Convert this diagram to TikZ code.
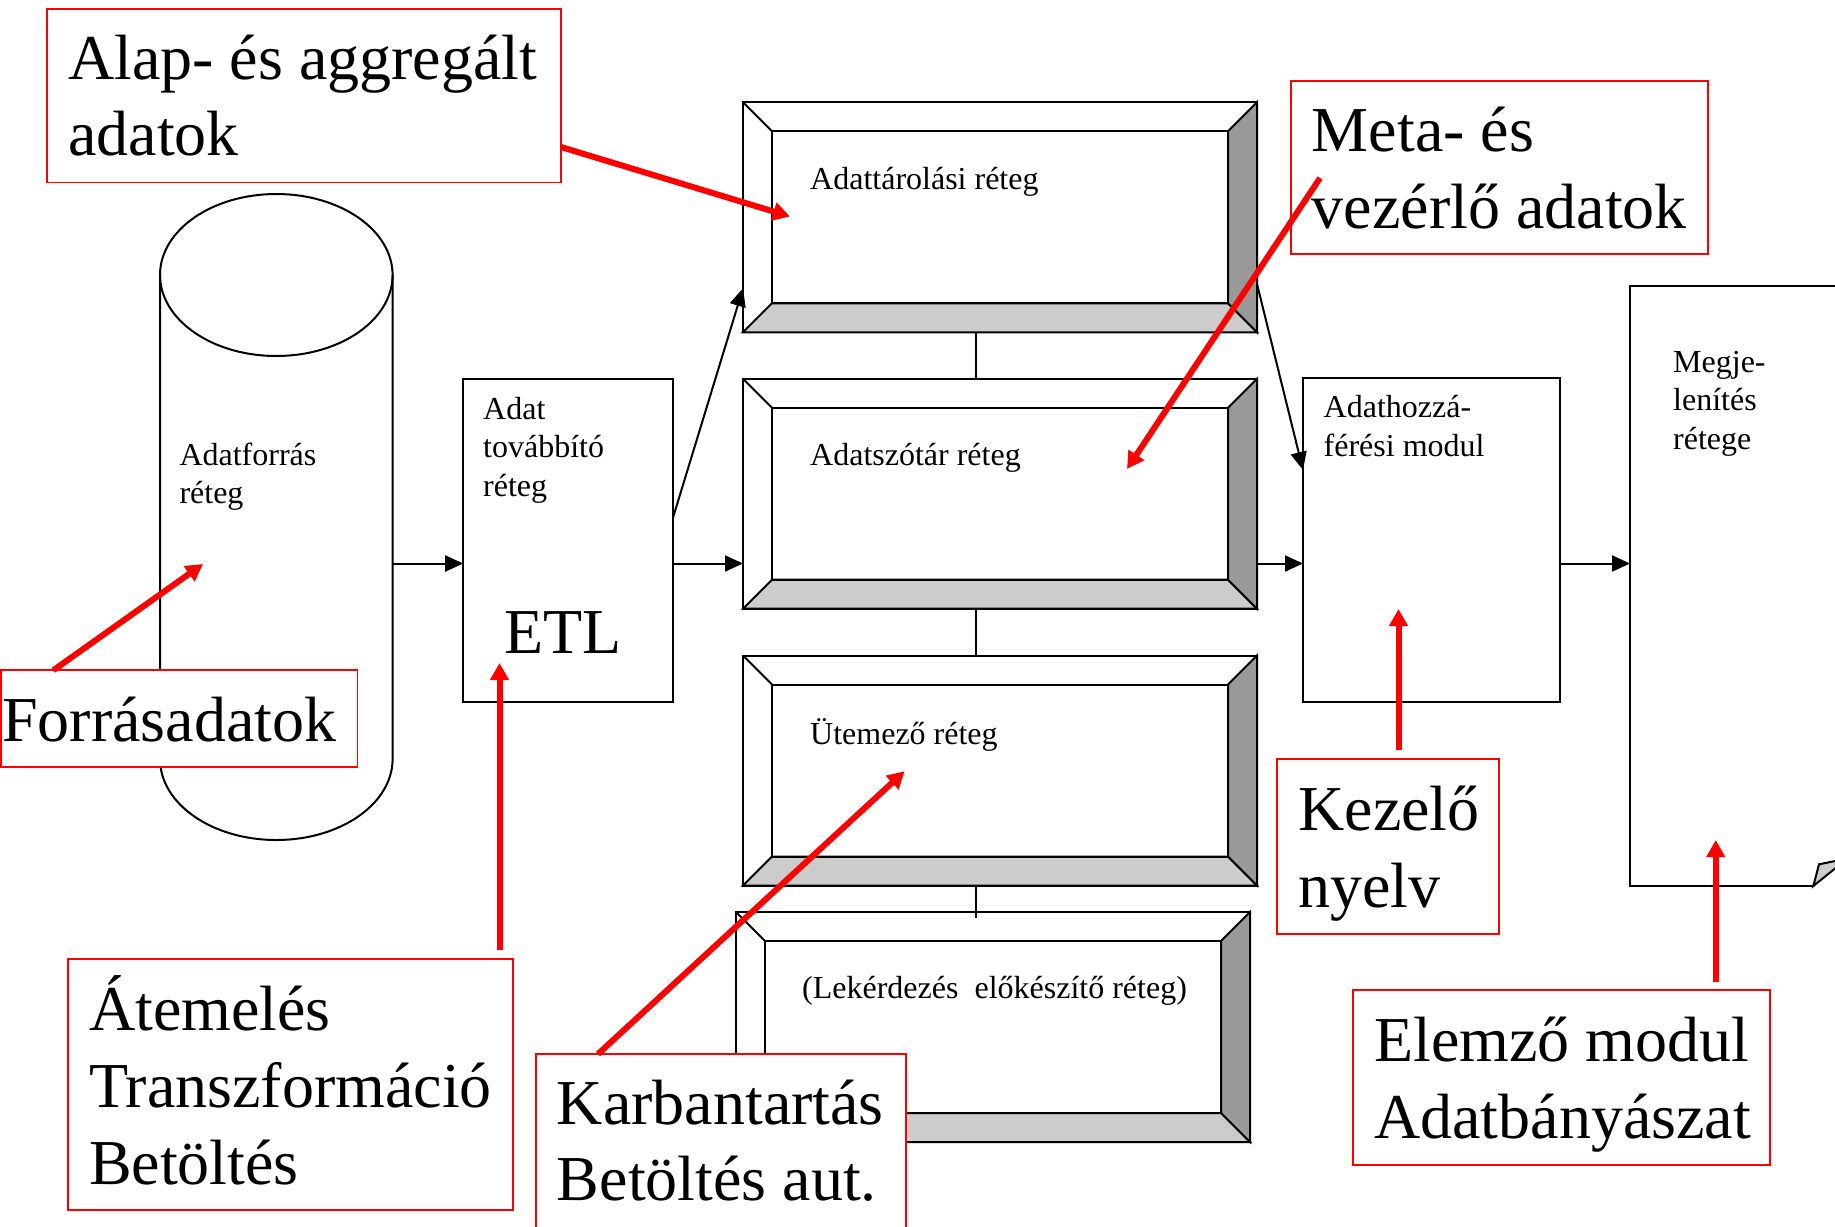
\documentclass[tikz,border=0pt]{standalone}
\usepackage{fontspec}
\setmainfont{Liberation Serif}
\usetikzlibrary{arrows.meta,calc}

% text sizes: layer labels and callout labels
\newcommand\smalltxt{\fontsize{32}{38.5}\selectfont}
\newcommand\bigtxt{\fontsize{64}{76.8}\selectfont}
% left-aligned lines whose reference point is the first baseline
\newcommand\stack[1]{\vtop{\halign{##\hfil\cr#1\crcr}}}

\definecolor{bevellight}{HTML}{CCCCCC}
\definecolor{beveldark}{HTML}{999999}
\definecolor{notered}{HTML}{FF0000}

% raised frame drawn around a layer node
\newcommand\bevelframe[1]{%
  \filldraw[frame, fill=bevellight] (#1.south west) -- (#1.south east)
     -- ($(#1.south east)+(-29,-29)$) -- ($(#1.south west)+(29,-29)$) -- cycle;
  \filldraw[frame, fill=beveldark] (#1.north east) -- (#1.south east)
     -- ($(#1.south east)+(-29,-29)$) -- ($(#1.north east)+(-29,29)$) -- cycle;
  \draw[frame] ($(#1.north west)+(29,29)$) rectangle ($(#1.south east)+(-29,-29)$);
  \draw[frame] (#1.north west) -- ($(#1.north west)+(29,29)$);
}

\begin{document}
\begin{tikzpicture}[x=1pt,y=-1pt,
  line join=miter,
  frame/.style={draw=black, line width=2pt},
  plainbox/.style={frame, rectangle, inner sep=0pt, outer sep=0pt, fill=white},
  layerbox/.style={plainbox, minimum width=514pt, minimum height=230pt},
  flow/.style={draw=black, line width=2pt, -{Triangle[length=18pt,width=16pt]}},
  notebox/.style={draw=notered, line width=1.8pt, fill=white, rectangle,
                  inner sep=0pt, outer sep=0pt, anchor=north west},
  notearrow/.style={draw=notered, line width=6pt, -{Triangle[length=17pt,width=18pt]}},
  small/.style={inner sep=0pt, anchor=base west, font=\smalltxt},
  big/.style={inner sep=0pt, anchor=base west, font=\bigtxt},
]
\useasboundingbox (0,0) rectangle (1835,1226);
\clip (0,0) rectangle (1835,1226);
\fill[white] (0,0) rectangle (1835,1226);

\coordinate (flowline) at (0,563.5);
\coordinate (spine) at (976,0);

% ---- data source cylinder
\node[inner sep=0pt, outer sep=0pt, minimum width=232.6pt, minimum height=646pt] (src) at (276.3,517) {};
\filldraw[frame, fill=white] (160,275) -- (160,759)
   arc[start angle=180, end angle=0, x radius=116.3, y radius=81] -- (392.6,275);
\draw[frame] (276.3,275) ellipse[x radius=116.3, y radius=81];
\node[small] (srcT) at (179.3,465) {\stack{Adatforrás\cr réteg}};

% ---- ETL box
\node[plainbox, minimum width=210pt, minimum height=323pt] (etl) at (568.2,540.5) {};
\node[small] (etlT) at (483,419) {\stack{Adat\cr továbbító\cr réteg}};
\node[big] (etlL) at (504,653) {ETL};

% ---- layers of the warehouse
\node[layerbox] (stor) at (1000,217.3) {};
\bevelframe{stor}
\node[layerbox] (dict) at (1000,493.7) {};
\bevelframe{dict}
\node[layerbox] (sched) at (1000,770.5) {};
\bevelframe{sched}
\node[layerbox] (query) at (993,1027) {};
\bevelframe{query}

\node[small] (storT) at (810,189.3) {Adattárolási réteg};
\node[small] (dictT) at (810,465) {Adatszótár réteg};
\node[small] (schedT) at (810,744) {Ütemező réteg};
\node[small] (queryT) at (802,998.3) {(Lekérdezés\ \ előkészítő réteg)};

\draw[frame] (stor.south -| spine) -- (dict.north -| spine);
\draw[frame] (dict.south -| spine) -- (sched.north -| spine);
\draw[frame] (sched.south -| spine) -- ($(query.north -| spine)+(0,6)$);

% ---- access module
\node[plainbox, minimum width=257.4pt, minimum height=323.3pt] (acc) at (1431.7,539.9) {};
\node[small] (accT) at (1323.5,417.8) {\stack{Adathozzá-\cr férési modul}};

% ---- presentation page with curled corner
\node[inner sep=0pt, outer sep=0pt, minimum width=220pt, minimum height=600pt] (pres) at (1740,586) {};
\draw[frame] (pres.north east) -- (pres.north west) -- (pres.south west) -- (1813.3,886);
\filldraw[frame, fill=bevellight] (1813.3,886) -- (1819,864.3) -- (1840,860) -- (1840,864.5) -- cycle;
\node[small] (presT) at (1673,372) {\stack{Megje-\cr lenítés\cr rétege}};

% ---- data flow
\draw[flow] (src.east |- flowline) -- (etl.west |- flowline);
\draw[flow] (etl.east |- flowline) -- (dict.west |- flowline);
\draw[flow] (etl.east |- 0,517) -- (stor.west |- 0,288.3);
\draw[flow] (dict.east |- flowline) -- (acc.west |- flowline);
\draw[flow] (stor.east |- 0,284) -- (acc.west |- 0,470);
\draw[flow] (acc.east |- flowline) -- (pres.west |- flowline);

% ---- callouts
\node[notebox, minimum width=514pt, minimum height=173.5pt] (alap) at (47,9) {};
\node[big] (alapT) at (68,79) {\stack{Alap- és aggregált\cr adatok}};

\node[notebox, minimum width=416.7pt, minimum height=173.6pt] (meta) at (1291,80.7) {};
\node[big] (metaT) at (1311.7,151.7) {\stack{Meta- és\cr vezérlő adatok}};

\node[notebox, minimum width=356.4pt, minimum height=96.7pt] (forr) at (1,670.2) {};
\node[big] (forrT) at (2,741) {Forrásadatok};

\node[notebox, minimum width=445.2pt, minimum height=251.2pt] (atem) at (67.8,958.8) {};
\node[big] (atemT) at (88.8,1030.5) {\stack{Átemelés\cr Transzformáció\cr Betöltés}};

\node[notebox, minimum width=369.7pt, minimum height=190pt] (karb) at (536,1054) {};
\node[big] (karbT) at (556.7,1124) {\stack{Karbantartás\cr Betöltés aut.}};

\node[notebox, minimum width=222pt, minimum height=174.7pt] (kez) at (1277.3,759.3) {};
\node[big] (kezT) at (1298.3,830.7) {\stack{Kezelő\cr nyelv}};

\node[notebox, minimum width=417.3pt, minimum height=175pt] (elem) at (1352.7,990) {};
\node[big] (elemT) at (1374,1061.7) {\stack{Elemző modul\cr Adatbányászat}};

\coordinate (alapTip) at (790,216.5);
\coordinate (metaFrom) at (1320,178);
\coordinate (metaTip) at (1127,469);
\coordinate (forrTip) at (203,564);
\coordinate (atemTip) at (499.5,663);
\coordinate (karbTip) at (904.6,771.2);
\coordinate (kezTip) at (1398.5,609);
\coordinate (elemTip) at (1715.7,840);

\draw[notearrow] (alap.east |- 0,147) -- (alapTip);
\draw[notearrow] (metaFrom) -- (metaTip);
\draw[notearrow] ($(forr.north west)+(52.4,0)$) -- (forrTip);
\draw[notearrow] ($(atem.north -| atemTip)+(0,-9)$) -- (atemTip);
\draw[notearrow] ($(karb.north west)+(62,0)$) -- (karbTip);
\draw[notearrow] ($(kez.north -| kezTip)+(0,-9)$) -- (kezTip);
\draw[notearrow] ($(elem.north -| elemTip)+(0,-8)$) -- (elemTip);
\end{tikzpicture}
\end{document}
